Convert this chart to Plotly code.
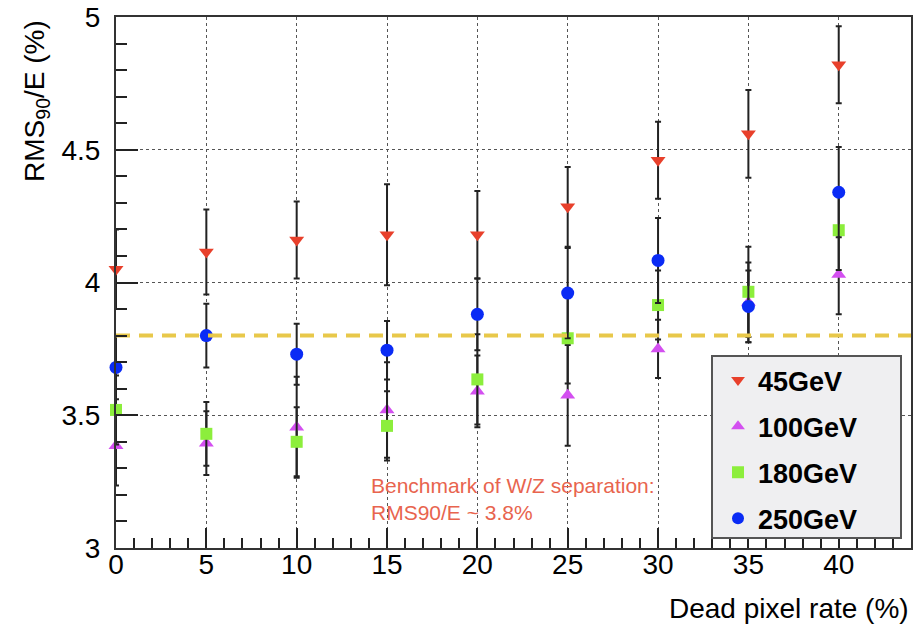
import plotly.graph_objects as go

# ---- data ----
dead_rate = [0, 5, 10, 15, 20, 25, 30, 35, 40]

rms_45 = [4.05, 4.115, 4.16, 4.18, 4.18, 4.285, 4.46, 4.56, 4.82]
err_45 = [0.15, 0.16, 0.145, 0.19, 0.165, 0.15, 0.145, 0.165, 0.145]

rms_100 = [3.385, 3.395, 3.455, 3.52, 3.59, 3.575, 3.75, 3.925, 4.03]
err_100 = [0.15, 0.12, 0.19, 0.18, 0.135, 0.19, 0.11, 0.15, 0.15]

rms_180 = [3.52, 3.43, 3.40, 3.46, 3.635, 3.79, 3.915, 3.965, 4.197]
err_180 = [0.13, 0.12, 0.13, 0.13, 0.17, 0.17, 0.13, 0.17, 0.15]

rms_250 = [3.68, 3.80, 3.73, 3.745, 3.88, 3.96, 4.083, 3.91, 4.34]
err_250 = [0.12, 0.12, 0.115, 0.11, 0.135, 0.17, 0.16, 0.135, 0.17]

series_names = ["45GeV", "100GeV", "180GeV", "250GeV"]
benchmark = 3.8
x_ticks = [0, 5, 10, 15, 20, 25, 30, 35, 40]
y_ticks = [3, 3.5, 4, 4.5, 5]
y_tick_text = ["3", "3.5", "4", "4.5", "5"]

FONT = "Liberation Sans, Arial, Helvetica, sans-serif"

fig = go.Figure()

styles = [
    (rms_45, err_45, "triangle-down", "#E8402B", 13),
    (rms_100, err_100, "triangle-up", "#D34FF0", 13),
    (rms_180, err_180, "square", "#8CEE3C", 12),
    (rms_250, err_250, "circle", "#0A2BF5", 13),
]

for name, (vals, errs, sym, col, sz) in zip(series_names, styles):
    fig.add_trace(go.Scatter(
        x=dead_rate, y=vals, mode="markers", name=name,
        legendgroup=name,
        marker=dict(symbol=sym, color=col, size=sz, line=dict(width=0)),
        error_y=dict(type="data", array=errs, visible=True,
                     color="#222222", thickness=2, width=3),
        cliponaxis=False,
    ))

# benchmark dashed line
fig.add_trace(go.Scatter(
    x=[0, 44], y=[benchmark, benchmark], mode="lines",
    line=dict(color="#E8C84A", width=4, dash="14px,9px"),
    showlegend=False, hoverinfo="skip",
))

# legend box
fig.add_shape(type="rect", xref="paper", yref="paper",
              x0=(712 - 116) / 795, x1=(901 - 116) / 795,
              y0=(548 - 538) / 531, y1=(548 - 356) / 531,
              fillcolor="#EFEFF1", line=dict(color="#555555", width=2),
              layer="above")

fig.update_layout(
    width=922, height=632,
    margin=dict(l=116, r=11, t=17, b=84, autoexpand=False),
    paper_bgcolor="white", plot_bgcolor="white",
    font=dict(family=FONT, color="black"),
    showlegend=True,
    legend=dict(
        x=(718 - 116) / 795, y=(548 - 356) / 531,
        xanchor="left", yanchor="top",
        bgcolor="rgba(0,0,0,0)", borderwidth=0,
        font=dict(family=FONT, size=27, color="black", weight="bold"),
        traceorder="grouped", tracegroupgap=8,
        itemsizing="constant",
    ),
    xaxis=dict(
        range=[0, 44], tickvals=x_ticks, ticktext=[str(v) for v in x_ticks],
        ticks="inside", ticklen=20, tickwidth=1.5, tickcolor="#222",
        minor=dict(dtick=1, ticks="inside", ticklen=10, tickcolor="#222",
                   showgrid=False),
        showgrid=True, gridcolor="#555", griddash="dot", gridwidth=1,
        showline=True, linecolor="#333", linewidth=2, mirror=True,
        zeroline=False, automargin=False,
        tickfont=dict(size=28, family=FONT),
        ticklabelstandoff=-10,
    ),
    yaxis=dict(
        range=[3, 5], tickvals=y_ticks, ticktext=y_tick_text,
        ticks="inside", ticklen=22, tickwidth=1.5, tickcolor="#222",
        minor=dict(dtick=0.1, ticks="inside", ticklen=11, tickcolor="#222",
                   showgrid=False),
        showgrid=True, gridcolor="#555", griddash="dot", gridwidth=1,
        showline=True, linecolor="#333", linewidth=2, mirror=True,
        zeroline=False, automargin=False,
        tickfont=dict(size=28, family=FONT),
        ticklabelstandoff=8,
    ),
    annotations=[
        dict(text="RMS<sub>90</sub>/E (%)", textangle=-90,
             xref="paper", yref="paper",
             x=(36 - 116) / 795, y=(548 - 18) / 531,
             xanchor="center", yanchor="top", showarrow=False,
             font=dict(size=28, family=FONT, color="black")),
        dict(text="Dead pixel rate (%)",
             xref="paper", yref="paper",
             x=1.0, y=(548 - 608) / 531,
             xanchor="right", yanchor="middle", showarrow=False,
             font=dict(size=28, family=FONT, color="black")),
        dict(text="Benchmark of W/Z separation:<br>RMS90/E ~ 3.8%",
             xref="paper", yref="paper", align="left",
             x=(369 - 116) / 795, y=(548 - 472) / 531,
             xanchor="left", yanchor="top", showarrow=False,
             font=dict(size=21, family=FONT, color="#E8644E")),
    ],
)

fig.write_html("out.html")
